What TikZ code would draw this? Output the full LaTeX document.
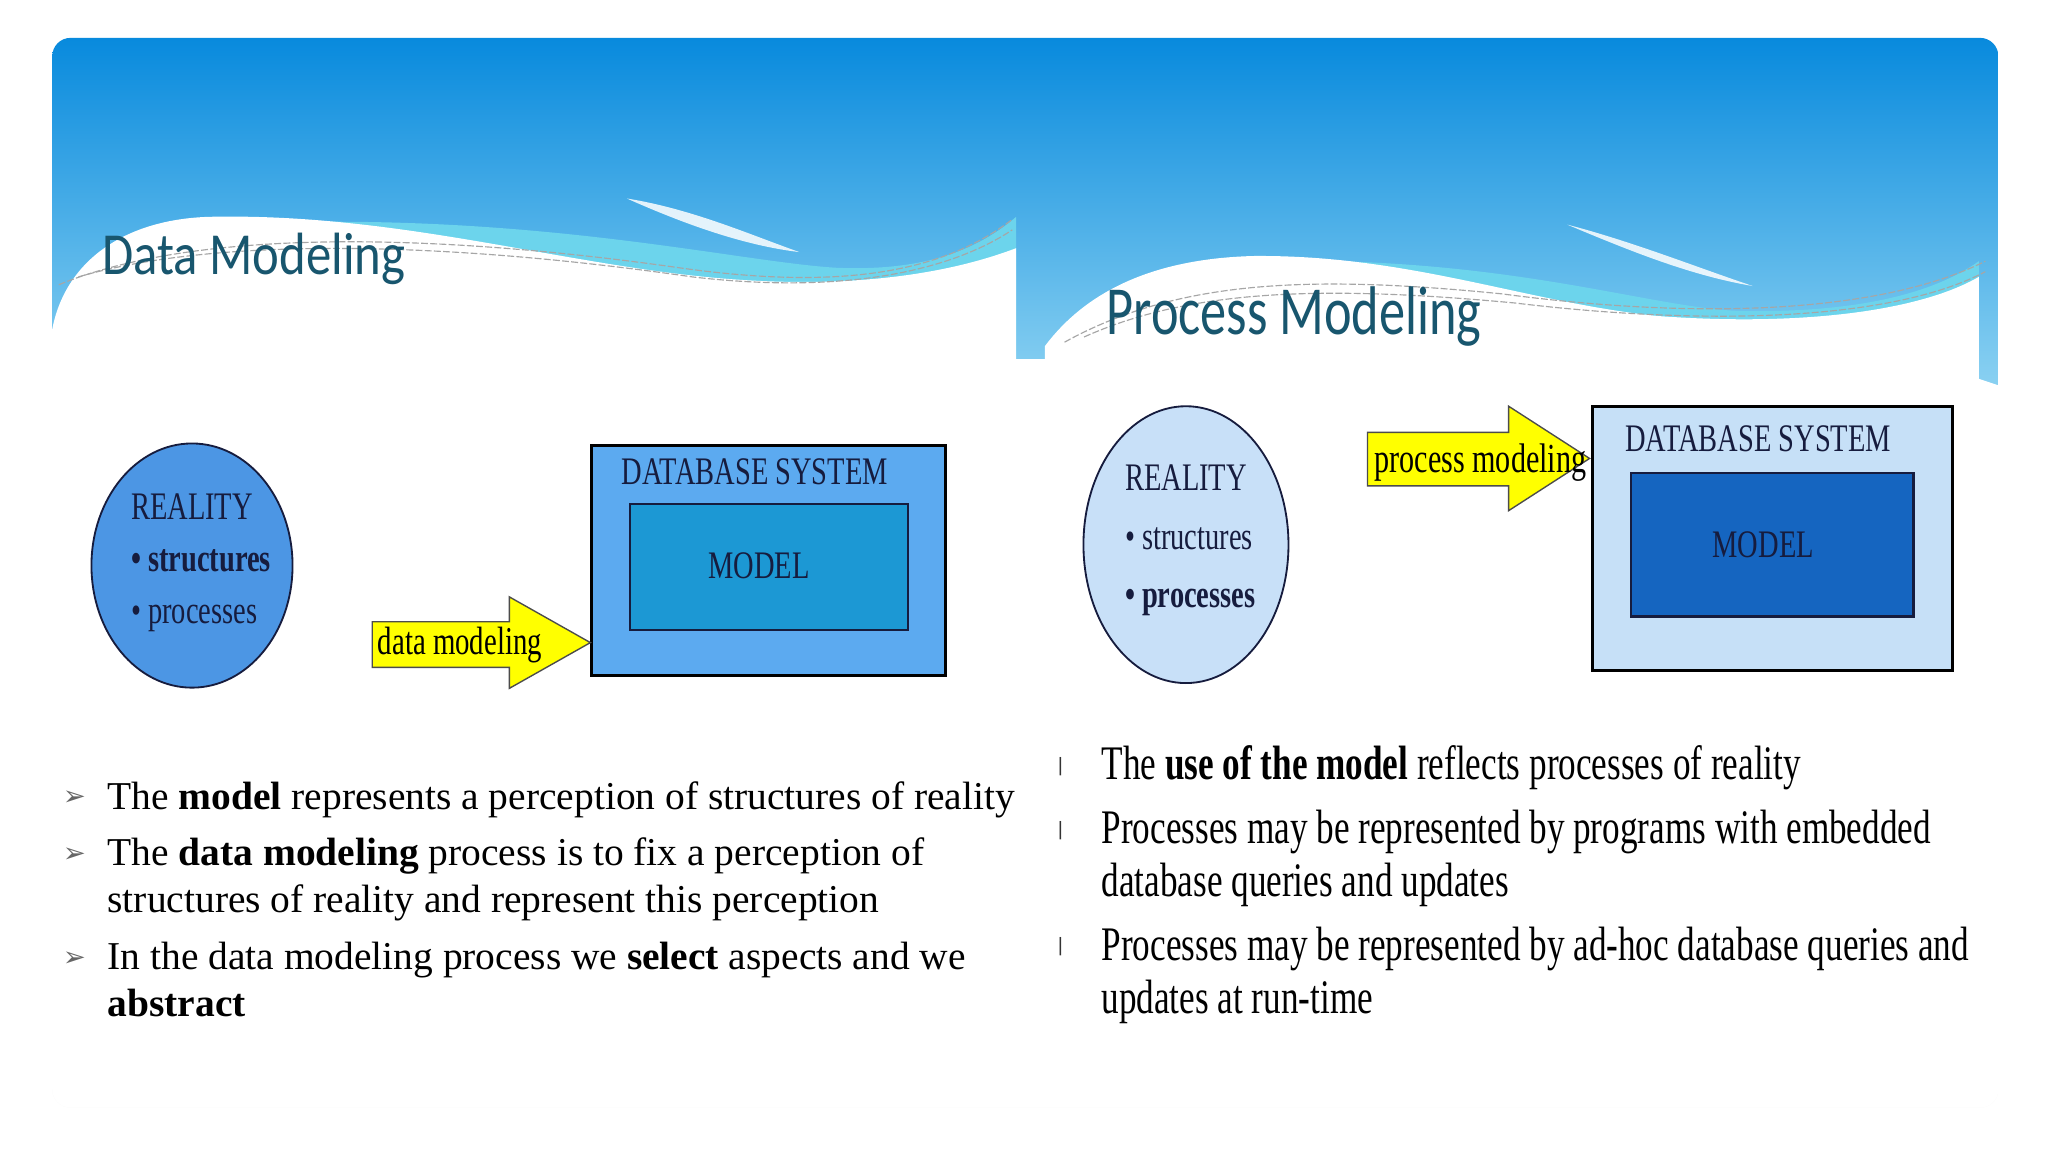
\documentclass[tikz,border=0pt]{standalone}
\usepackage{fontspec}
\usetikzlibrary{shapes.geometric,positioning}
\setmainfont{Liberation Serif}
\newfontfamily\headfont[FakeStretch=0.85]{Carlito}
\newfontfamily\headfontR[FakeStretch=0.76]{Carlito}
\newfontfamily\figfont[FakeStretch=0.73]{Liberation Serif}
\newfontfamily\pmfont[FakeStretch=0.73]{Liberation Serif}
\newfontfamily\symfont{DejaVu Sans}

\definecolor{skytop}{RGB}{8,138,221}
\definecolor{skymid}{RGB}{45,165,230}
\definecolor{palesky}{RGB}{140,210,242}
\definecolor{wavecyan}{RGB}{108,212,236}
\definecolor{slidebg}{RGB}{250,250,250}
\definecolor{titleteal}{RGB}{24,86,110}
\definecolor{navy}{RGB}{22,28,62}
\definecolor{realdark}{RGB}{76,150,228}
\definecolor{dbdark}{RGB}{92,170,240}
\definecolor{modeldark}{RGB}{28,152,212}
\definecolor{reallight}{RGB}{200,224,248}
\definecolor{dblight}{RGB}{198,224,247}
\definecolor{modellight}{RGB}{21,101,192}
\definecolor{arrowyellow}{RGB}{255,255,0}

\tikzset{
  reality/.style={ellipse, draw=navy, line width=0.8pt, inner sep=0pt},
  realtext/.style={text=navy, align=left, inner sep=0pt, anchor=west},
  dbbox/.style={draw=black, line width=1.3pt, inner sep=0pt},
  modelbox/.style={draw=navy, line width=0.9pt, inner sep=0pt},
  dblabel/.style={font=\figfont\fontsize{17}{20}\selectfont, text=navy, inner sep=0pt},
  blockarrow/.style={fill=arrowyellow, draw=black!70, line width=0.6pt},
  arrowlabel/.style={font=\figfont\fontsize{17.2}{20}\selectfont, text=black, inner sep=0pt, anchor=west},
  slidetitle/.style={text=titleteal, inner sep=0pt, anchor=base west},
  dmline/.style={font=\fontsize{17.2}{20}\selectfont, inner sep=0pt, anchor=base west},
  pmline/.style={font=\pmfont\fontsize{21}{25}\selectfont, inner sep=0pt, anchor=base west},
  dmmark/.style={font=\symfont\fontsize{12}{12}\selectfont, text=black!60, inner sep=0pt},
  pmmark/.style={font=\symfont\fontsize{8}{9}\selectfont, text=black!80, inner sep=0pt},
  waveline/.style={gray!70, line width=0.5pt, dash pattern=on 3pt off 1pt},
  swoosh/.style={white, opacity=0.85}
}

\begin{document}
\begin{tikzpicture}[x=0.02cm, y=-0.02cm]
\useasboundingbox[fill=white] (0,0) rectangle (1568,882);

% slide card and header
\begin{scope}
\clip[rounded corners=8pt] (40,29) rectangle (1530,848);
\fill[slidebg] (40,29) rectangle (1530,848);
\shade[top color=skytop, middle color=skymid, bottom color=palesky] (40,29) rectangle (1530,300);

% left header wave
\fill[wavecyan] (170,172) .. controls (400,160) and (560,200) .. (640,205) .. controls (710,208) and (750,190) .. (778,166) -- (778,300) -- (170,300) -- cycle;
\fill[swoosh] (480,152) .. controls (530,160) and (575,180) .. (612,193) .. controls (570,188) and (525,172) .. (480,152) -- cycle;
\fill[white] (40,252) .. controls (50,200) and (95,168) .. (160,166) .. controls (300,163) and (420,200) .. (540,212) .. controls (640,222) and (720,212) .. (778,190) -- (778,848) -- (40,848) -- cycle;
\draw[waveline] (45,218) .. controls (150,175) and (330,178) .. (520,205) .. controls (640,222) and (720,210) .. (775,168);
\draw[waveline] (60,212) .. controls (170,180) and (350,186) .. (530,212) .. controls (650,226) and (730,206) .. (775,176);

% gap between the slides
\fill[white] (778,275) rectangle (800,848);

% right header wave
\fill[wavecyan] (960,200) .. controls (1150,195) and (1260,235) .. (1330,238) .. controls (1420,240) and (1480,225) .. (1515,200) -- (1515,300) -- (960,300) -- cycle;
\fill[swoosh] (1200,172) .. controls (1250,185) and (1300,205) .. (1342,219) .. controls (1295,211) and (1250,193) .. (1200,172) -- cycle;
\fill[white] (800,265) .. controls (830,225) and (880,198) .. (960,196) .. controls (1080,195) and (1170,232) .. (1270,242) .. controls (1380,250) and (1470,238) .. (1515,212) -- (1515,290) -- (1530,295) -- (1530,848) -- (800,848) -- cycle;
\draw[waveline] (815,262) .. controls (900,215) and (1000,210) .. (1150,225) .. controls (1300,245) and (1440,240) .. (1520,200);
\draw[waveline] (830,258) .. controls (910,222) and (1010,218) .. (1160,232) .. controls (1310,250) and (1450,245) .. (1520,208);
\end{scope}

% titles
\node[slidetitle, font=\headfont\fontsize{26}{30}\selectfont] (titleL) at (78,210) {Data Modeling};
\node[slidetitle, font=\headfontR\fontsize{30}{34}\selectfont] (titleR) at (847,256) {Process Modeling};

% data modeling diagram
\node[reality, fill=realdark, minimum width=3.08cm, minimum height=3.74cm] (realL) at (147,433) {};
\node[realtext, font=\figfont\fontsize{17}{22.7}\selectfont] (realtextL) at (100,431)
      {REALITY\\ \textbf{• structures}\\ • processes};
\node[dbbox, fill=dbdark, minimum width=5.42cm, minimum height=3.52cm] (dbL) at (588.5,429) {};
\node[modelbox, fill=modeldark, minimum width=4.26cm, minimum height=1.92cm] (modelL) at (588.5,434) {};
\node[dblabel] (modeltextL) at (581,433) {MODEL};
\node[dblabel] (dbtextL) at (578,361) {DATABASE SYSTEM};
\coordinate (dmtip) at (452,492);
\draw[blockarrow] (dmtip) -- ++(-62,-35) -- ++(0,19) -- ++(-105,0) -- ++(0,35) -- ++(105,0) -- ++(0,16) -- cycle;
\node[arrowlabel] (dmlabel) at (289,494) {data modeling};

% process modeling diagram
\node[reality, fill=reallight, minimum width=3.14cm, minimum height=4.24cm] (realR) at (908,417) {};
\node[realtext, font=\figfont\fontsize{17}{25.5}\selectfont] (realtextR) at (861,414)
      {REALITY\\ • structures\\ \textbf{• processes}};
\node[dbbox, fill=dblight, minimum width=5.52cm, minimum height=4.04cm] (dbR) at (1357,412) {};
\node[modelbox, fill=modellight, minimum width=4.32cm, minimum height=2.2cm] (modelR) at (1357,417) {};
\node[dblabel] (modeltextR) at (1350,417) {MODEL};
\node[dblabel] (dbtextR) at (1346,336) {DATABASE SYSTEM};
\coordinate (pmtip) at (1217,351);
\draw[blockarrow] (pmtip) -- ++(-62,-40) -- ++(0,20) -- ++(-108,0) -- ++(0,41) -- ++(108,0) -- ++(0,19) -- cycle;
\node[arrowlabel, font=\figfont\fontsize{18}{20}\selectfont] (pmlabel) at (1052,354) {process modeling};

% left bullets
\node[dmmark] (dmk1) at (57,611) {➢};
\node[dmmark] (dmk2) at (57,655) {➢};
\node[dmmark] (dmk3) at (57,734) {➢};
\node[dmline] (dm1) at (82,620) {The \textbf{model} represents a perception of structures of reality};
\node[dmline] (dm2a) at (82,663) {The \textbf{data modeling} process is to fix a perception of};
\node[dmline] (dm2b) at (82,699) {structures of reality and represent this perception};
\node[dmline] (dm3a) at (82,742) {In the data modeling process we \textbf{select} aspects and we};
\node[dmline] (dm3b) at (82,778) {\textbf{abstract}};

% right bullets
\node[pmmark] (pmk1) at (812,587) {|};
\node[pmmark] (pmk2) at (812,636) {|};
\node[pmmark] (pmk3) at (812,725) {|};
\node[pmline] (pm1) at (843,597) {The \textbf{use of the model} reflects processes of reality};
\node[pmline] (pm2a) at (843,646) {Processes may be represented by programs with embedded};
\node[pmline] (pm2b) at (843,686) {database queries and updates};
\node[pmline] (pm3a) at (843,735) {Processes may be represented by ad-hoc database queries and};
\node[pmline] (pm3b) at (843,776) {updates at run-time};
\end{tikzpicture}
\end{document}
